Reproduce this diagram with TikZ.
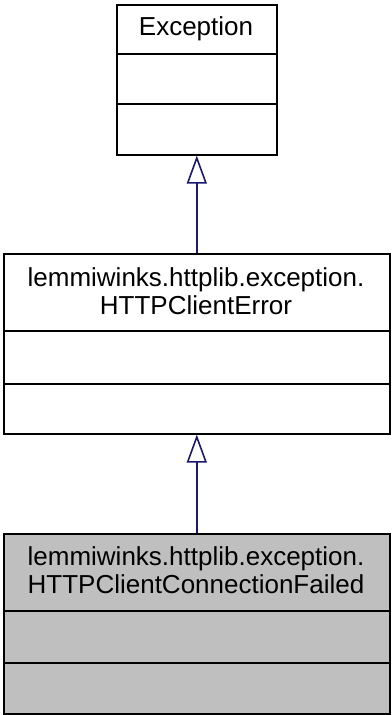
\documentclass[tikz,border=0pt]{standalone}
\usepackage{fontspec}
\setmainfont{Liberation Sans}
\usetikzlibrary{arrows.meta}
\definecolor{edgeblue}{HTML}{191970}
\definecolor{boxgray}{HTML}{BFBFBF}
\tikzset{
  classbox/.style={draw=black, line width=1.6pt, inner sep=0pt, anchor=north west},
  divider/.style={draw=black, line width=1.6pt},
  titletext/.style={font=\fontsize{26}{28}\selectfont, anchor=base, inner sep=0pt},
  inherit/.style={draw=edgeblue, line width=1.6pt, -{Triangle[open, width=20pt, length=28pt, fill=white]}}
}
\begin{document}
\begin{tikzpicture}[x=1pt, y=-1pt]
\useasboundingbox (0,0) rectangle (391,715);
% Exception
\node[classbox, minimum width=160pt, minimum height=150pt] (exc) at (116,4) {};
\draw[divider] (116,54) -- (276,54);
\draw[divider] (116,104) -- (276,104);
\node[titletext] (exct) at (196,35) {Exception};
% HTTPClientError
\node[classbox, minimum width=386pt, minimum height=180pt] (err) at (3,253) {};
\draw[divider] (3,331) -- (389,331);
\draw[divider] (3,384) -- (389,384);
\node[titletext] (errt1) at (196,286) {lemmiwinks.httplib.exception.};
\node[titletext] (errt2) at (196,314) {HTTPClientError};
% HTTPClientConnectionFailed
\node[classbox, fill=boxgray, minimum width=386pt, minimum height=180pt] (fail) at (3,533) {};
\draw[divider] (3,611) -- (389,611);
\draw[divider] (3,663) -- (389,663);
\node[titletext] (failt1) at (196,565) {lemmiwinks.httplib.exception.};
\node[titletext] (failt2) at (196,593) {HTTPClientConnectionFailed};
% inheritance
\draw[inherit] (err.north) -- (exc.south);
\draw[inherit] (fail.north) -- (err.south);
\end{tikzpicture}
\end{document}
